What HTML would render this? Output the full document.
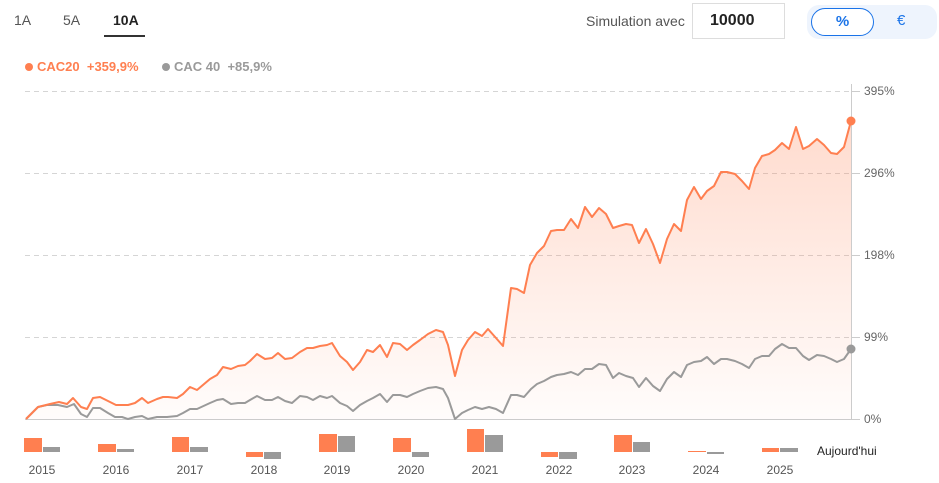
<!DOCTYPE html>
<html><head><meta charset="utf-8"><style>
body{margin:0;width:939px;height:483px;background:#fff;font-family:"Liberation Sans",Arial,sans-serif;position:relative;overflow:hidden}
.a{position:absolute;white-space:nowrap}
</style></head><body>
<div class="a" style="left:14px;top:12px;font-size:14px;color:#555">1A</div>
<div class="a" style="left:63px;top:12px;font-size:14px;color:#555">5A</div>
<div class="a" style="left:113px;top:12px;font-size:14px;color:#222;font-weight:bold">10A</div>
<div class="a" style="left:104px;top:35px;width:41px;height:2px;background:#333"></div>
<div class="a" style="left:25px;top:59px;font-size:13px;font-weight:bold;color:#ff7f50"><span style="display:inline-block;width:8px;height:8px;border-radius:50%;background:#ff7f50;margin-right:4px"></span>CAC20&nbsp;&nbsp;+359,9%</div>
<div class="a" style="left:162px;top:59px;font-size:13px;font-weight:bold;color:#9a9a9a"><span style="display:inline-block;width:8px;height:8px;border-radius:50%;background:#9a9a9a;margin-right:4px"></span>CAC 40&nbsp;&nbsp;+85,9%</div>
<div class="a" style="left:586px;top:13px;font-size:14px;color:#555">Simulation avec</div>
<div class="a" style="left:692px;top:3px;width:93px;height:36px;border:1px solid #ddd;box-sizing:border-box;font-size:16px;font-weight:bold;color:#222;line-height:34px;padding-left:17px;background:#fff">10000</div>
<div class="a" style="left:807px;top:5px;width:130px;height:34px;border-radius:12px;background:#eef4fd"></div>
<div class="a" style="left:811px;top:8px;width:63px;height:28px;border:1px solid #1a73e8;box-sizing:border-box;border-radius:14px;background:#fff;color:#1a73e8;font-weight:bold;font-size:15px;text-align:center;line-height:26px">%</div>
<div class="a" style="left:897px;top:12px;color:#1a73e8;font-size:15px">€</div>
<svg class="a" style="left:0;top:0" width="939" height="483">
<defs><linearGradient id="g" x1="0" y1="0" x2="0" y2="1"><stop offset="0" stop-color="#ff7f50" stop-opacity="0.28"/><stop offset="1" stop-color="#ff7f50" stop-opacity="0.02"/></linearGradient></defs>
<g stroke="#d5d5d5" stroke-dasharray="5,4" stroke-width="1">
<line x1="25" y1="91.5" x2="852" y2="91.5"/><line x1="25" y1="173.5" x2="852" y2="173.5"/><line x1="25" y1="255.5" x2="852" y2="255.5"/><line x1="25" y1="337.5" x2="852" y2="337.5"/></g>
<line x1="25" y1="419.5" x2="860" y2="419.5" stroke="#ccc"/>
<line x1="851.5" y1="84" x2="851.5" y2="419" stroke="#ccc"/>
<g stroke="#ccc"><line x1="851" y1="91.5" x2="860" y2="91.5"/><line x1="851" y1="173.5" x2="860" y2="173.5"/><line x1="851" y1="255.5" x2="860" y2="255.5"/><line x1="851" y1="337.5" x2="860" y2="337.5"/></g>
<g font-size="12" fill="#666"><text x="864" y="95">395%</text><text x="864" y="177">296%</text><text x="864" y="259">198%</text><text x="864" y="341">99%</text><text x="864" y="423">0%</text></g>
<polygon fill="url(#g)" points="26,419 38,407 50,404 59,402 67,404 73,398 81,407 87,409 93,398 100,397 108,401 116,405 128,405 135,403 142,398 148,403 157,399 163,397 168,397 177,398 183,394 190,387 197,390 210,379 217,375 223,367 231,369 238,366 245,365 250,361 257,354 265,359 272,358 278,353 285,359 292,358 300,352 307,348 313,348 320,346 327,345 332,343 340,356 347,362 353,370 360,362 367,350 373,352 380,345 387,357 393,343 400,344 407,350 413,345 420,340 428,334 436,330 443,332 448,345 455,376 462,350 468,340 475,332 482,336 488,329 496,338 503,346 511,288 517,289 524,293 530,265 537,253 544,246 551,231 557,230 564,230 571,219 578,228 585,207 592,217 599,208 606,214 613,228 619,226 626,224 632,225 639,243 646,229 653,244 660,263 667,239 674,224 681,231 687,200 694,187 701,199 707,191 714,186 721,172 727,172 735,174 742,181 749,189 755,168 762,156 769,154 775,150 782,143 789,149 796,127 803,149 809,146 817,139 824,145 831,153 837,154 844,147 851,121 851,419"/>
<polyline fill="none" stroke="#9a9a9a" stroke-width="2" stroke-linejoin="round" points="26,419 38,407 47,405 58,405 67,407 74,404 81,414 87,417 93,408 100,408 108,413 115,417 122,417 128,419 135,417 142,416 148,419 157,417 167,417 177,416 183,413 190,409 197,409 210,403 217,400 223,399 231,404 238,403 245,403 250,400 257,396 265,400 272,400 278,397 285,401 292,403 300,396 307,397 313,400 320,396 327,398 332,396 340,403 347,406 353,411 360,405 367,401 373,398 380,394 387,402 393,395 400,395 407,397 413,394 420,391 428,388 436,387 443,389 448,398 455,419 462,413 468,410 475,407 482,409 489,407 496,409 503,413 511,395 517,395 524,397 531,389 537,384 544,381 551,377 557,375 564,374 571,372 578,375 585,369 592,369 599,364 606,365 613,378 619,373 626,376 633,378 639,387 646,378 653,386 660,391 667,379 674,372 681,377 687,365 694,362 701,361 707,357 714,364 721,359 727,359 735,361 742,364 749,368 755,359 762,356 769,356 775,349 782,344 789,348 796,348 803,356 809,360 817,355 824,356 831,359 837,362 844,359 851,349"/>
<polyline fill="none" stroke="#ff7f50" stroke-width="2" stroke-linejoin="round" points="26,419 38,407 50,404 59,402 67,404 73,398 81,407 87,409 93,398 100,397 108,401 116,405 128,405 135,403 142,398 148,403 157,399 163,397 168,397 177,398 183,394 190,387 197,390 210,379 217,375 223,367 231,369 238,366 245,365 250,361 257,354 265,359 272,358 278,353 285,359 292,358 300,352 307,348 313,348 320,346 327,345 332,343 340,356 347,362 353,370 360,362 367,350 373,352 380,345 387,357 393,343 400,344 407,350 413,345 420,340 428,334 436,330 443,332 448,345 455,376 462,350 468,340 475,332 482,336 488,329 496,338 503,346 511,288 517,289 524,293 530,265 537,253 544,246 551,231 557,230 564,230 571,219 578,228 585,207 592,217 599,208 606,214 613,228 619,226 626,224 632,225 639,243 646,229 653,244 660,263 667,239 674,224 681,231 687,200 694,187 701,199 707,191 714,186 721,172 727,172 735,174 742,181 749,189 755,168 762,156 769,154 775,150 782,143 789,149 796,127 803,149 809,146 817,139 824,145 831,153 837,154 844,147 851,121"/>
<circle cx="851" cy="121" r="4.5" fill="#ff7f50"/><circle cx="851" cy="349" r="4.5" fill="#9a9a9a"/>
<g fill="#ff7f50">
<rect x="24" y="438" width="18" height="14"/><rect x="98" y="444" width="18" height="8"/><rect x="172" y="437" width="17" height="15"/><rect x="246" y="452" width="17" height="5"/><rect x="319" y="434" width="18" height="18"/><rect x="393" y="438" width="18" height="14"/><rect x="467" y="429" width="17" height="23"/><rect x="541" y="452" width="17" height="5"/><rect x="614" y="435" width="18" height="17"/><rect x="688" y="451" width="18" height="1"/><rect x="762" y="448" width="17" height="4"/></g>
<g fill="#9a9a9a">
<rect x="43" y="447" width="17" height="5"/><rect x="117" y="449" width="17" height="3"/><rect x="190" y="447" width="18" height="5"/><rect x="264" y="452" width="17" height="7"/><rect x="338" y="436" width="17" height="16"/><rect x="412" y="452" width="17" height="5"/><rect x="485" y="435" width="18" height="17"/><rect x="559" y="452" width="18" height="7"/><rect x="633" y="442" width="17" height="10"/><rect x="707" y="452" width="17" height="2"/><rect x="780" y="448" width="18" height="4"/></g>
<g font-size="12" fill="#555" text-anchor="middle">
<text x="42" y="474">2015</text><text x="116" y="474">2016</text><text x="190" y="474">2017</text><text x="264" y="474">2018</text><text x="337" y="474">2019</text><text x="411" y="474">2020</text><text x="485" y="474">2021</text><text x="559" y="474">2022</text><text x="632" y="474">2023</text><text x="706" y="474">2024</text><text x="780" y="474">2025</text></g>
<text x="817" y="455" font-size="12" fill="#222">Aujourd'hui</text>
</svg>
</body></html>
